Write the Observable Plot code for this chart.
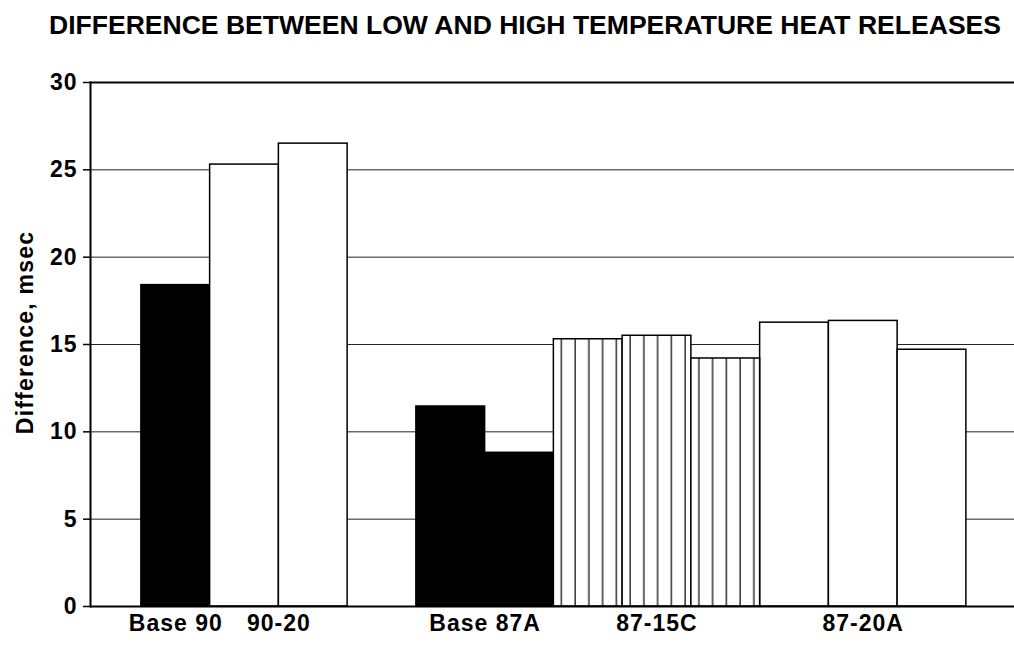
<!DOCTYPE html>
<html><head><meta charset="utf-8">
<script src="https://cdn.jsdelivr.net/npm/d3@7"></script>
<script src="https://cdn.jsdelivr.net/npm/@observablehq/plot@0.6"></script>
<style>
body{margin:0;background:#fff;}
#title{display:block}
#chart svg{display:block}
</style>
</head><body>
<div id="head"></div>
<div id="chart"></div>
<script>
// ---- data ----
const title = "DIFFERENCE BETWEEN LOW AND HIGH TEMPERATURE HEAT RELEASES";
const yLabel = "Difference, msec";
const groupNames = ["Base 90", "90-20", "Base 87A", "87-15C", "87-20A"];
const groupValues = [[18.4], [25.3, 26.5], [11.45, 8.8], [15.3, 15.5, 14.2], [16.25, 16.35, 14.7]];
const groupKinds = ["solid", "open", "solid", "striped", "open"];
const emptySlotsBefore = [0, 0, 1, 0, 0];
const yTicks = [0, 5, 10, 15, 20, 25, 30];

// ---- derived tables ----
const bars = [];
const labels = [];
let slot = 0;
groupNames.forEach((g, i) => {
  slot += emptySlotsBefore[i];
  const start = slot;
  groupValues[i].forEach(v => {
    bars.push({group: g, kind: groupKinds[i], x1: slot, x2: slot + 1, value: v});
    slot++;
  });
  labels.push({name: g, center: (start + slot) / 2});
});

const FONT = "'Liberation Sans', Arial, Helvetica, sans-serif";

// title
const head = d3.select("#head").append("svg").attr("id", "title").attr("width", 1014).attr("height", 56);
head.append("text").attr("x", 49).attr("y", 34)
  .attr("textLength", 952).attr("lengthAdjust", "spacingAndGlyphs")
  .attr("font-family", FONT).attr("font-weight", "bold").attr("font-size", 25.5)
  .text(title);

const barOpts = {x1: "x1", x2: "x2", y: "value", stroke: "black", strokeWidth: 1.5};

const chart = Plot.plot({
  width: 1014,
  height: 590,
  marginTop: 26,
  marginBottom: 40,
  marginLeft: 90,
  marginRight: 0,
  x: {domain: [-0.74, slot + 0.70], axis: null},
  y: {domain: [0, 30], axis: null},
  style: {fontFamily: FONT, fontWeight: "bold", fontSize: "23px", color: "black", background: "white", letterSpacing: "1px"},
  marks: [
    Plot.ruleY(yTicks.filter(d => d > 0 && d < 30), {stroke: "#222", strokeWidth: 1}),
    Plot.rectY(bars.filter(d => d.kind === "solid"), {...barOpts, fill: "black"}),
    Plot.rectY(bars.filter(d => d.kind === "open"), {...barOpts, fill: "white"}),
    Plot.rectY(bars.filter(d => d.kind === "striped"), {...barOpts, fill: "url(#stripes)"}),
    Plot.ruleY([30], {stroke: "black", strokeWidth: 2}),
    Plot.ruleY([0], {stroke: "black", strokeWidth: 2}),
    Plot.axisY({ticks: yTicks, tickSize: 7, tickPadding: 6, label: null, fontSize: 23, strokeWidth: 1.5}),
    Plot.frame({anchor: "left", stroke: "black", strokeWidth: 2}),
    Plot.text(labels, {x: "center", text: "name", frameAnchor: "bottom", dy: 24, fontSize: 23, letterSpacing: "1.5px"}),
    Plot.text([yLabel], {text: d => d, frameAnchor: "left", textAnchor: "middle", rotate: -90, dx: -65, dy: -12, fontSize: 23})
  ]
});
document.getElementById("chart").appendChild(chart);

// stripe pattern for the 87-15C bars
const svg = d3.select(chart);
const defs = svg.insert("defs", ":first-child");
const pat = defs.append("pattern").attr("id", "stripes")
  .attr("patternUnits", "objectBoundingBox").attr("width", 0.2).attr("height", 1);
pat.append("rect").attr("width", 100).attr("height", 2000).attr("fill", "white");
pat.append("line").attr("x1", 8).attr("x2", 8).attr("y1", 0).attr("y2", 2000)
  .attr("stroke", "black").attr("stroke-width", 1.2);
// y label letter spacing
svg.selectAll("text").filter(function(){ return this.textContent === yLabel; }).style("letter-spacing", "1.2px");
</script>
</body></html>
